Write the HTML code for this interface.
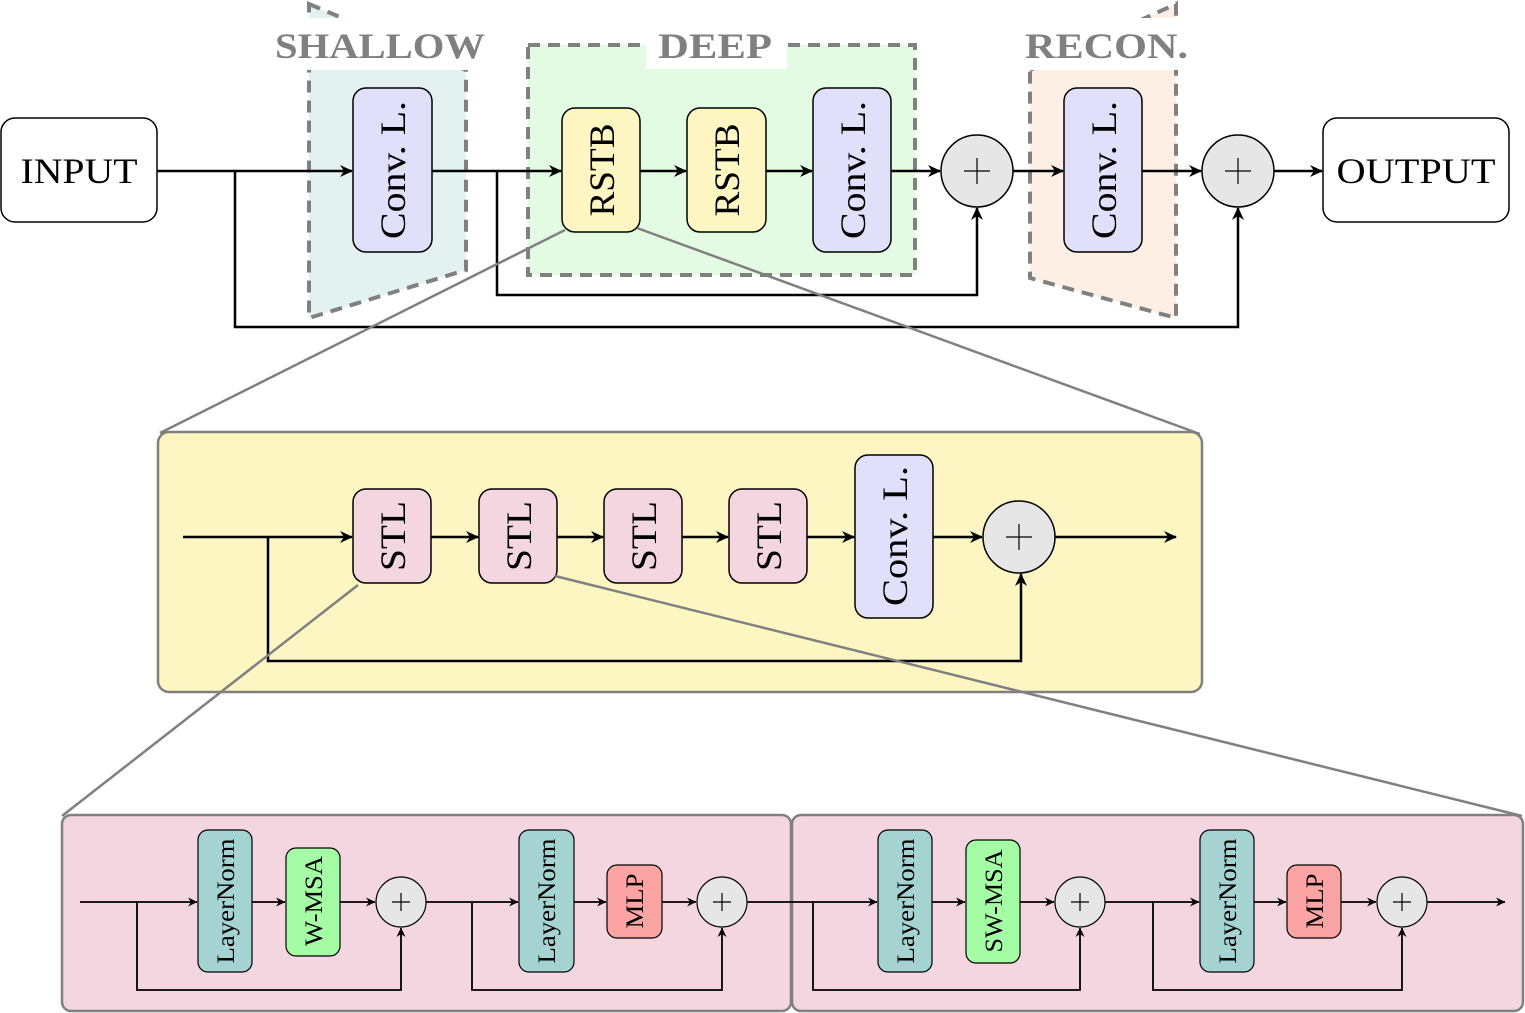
<!DOCTYPE html>
<html><head><meta charset="utf-8"><style>html,body{margin:0;padding:0;background:#fff}svg{display:block}</style></head>
<body>
<svg width="1525" height="1013" viewBox="0 0 1525 1013" xmlns="http://www.w3.org/2000/svg" font-family="Liberation Serif, serif">
<defs>
<marker id="a" markerWidth="14" markerHeight="14" refX="13" refY="7" orient="auto" markerUnits="userSpaceOnUse"><path d="M1,1 L14,7 L1,13 L5,7 Z" fill="#000"/></marker>
<marker id="b" markerWidth="10" markerHeight="10" refX="9.5" refY="5" orient="auto" markerUnits="userSpaceOnUse"><path d="M0.5,0.5 L10,5 L0.5,9.5 L3.5,5 Z" fill="#000"/></marker>
</defs>

<polygon points="309,4 466,70 466,270 309,318" fill="#e3f1f1"/>
<polygon points="309,4 466,70 466,270 309,318" fill="none" stroke="#808080" stroke-width="4" stroke-dasharray="12,8"/>
<rect x="270" y="18" width="222" height="52" fill="#fff"/>
<text x="275" y="58" textLength="210" lengthAdjust="spacingAndGlyphs" font-size="36" font-weight="bold" fill="#808080">SHALLOW</text>

<rect x="528" y="45" width="387" height="230" fill="#e3fbe3" stroke="#808080" stroke-width="4" stroke-dasharray="12,8"/>
<rect x="646" y="26" width="141" height="43" fill="#fff"/>
<text x="658" y="58" textLength="114" lengthAdjust="spacingAndGlyphs" font-size="36" font-weight="bold" fill="#808080">DEEP</text>

<polygon points="1030,70 1176,4 1176,318 1030,278" fill="#fdefe3"/>
<polygon points="1030,70 1176,4 1176,318 1030,278" fill="none" stroke="#808080" stroke-width="4" stroke-dasharray="12,8"/>
<rect x="1020" y="18" width="172" height="52" fill="#fff"/>
<text x="1025" y="58" textLength="163" lengthAdjust="spacingAndGlyphs" font-size="36" font-weight="bold" fill="#808080">RECON.</text>

<g stroke="#000" stroke-width="2.5" fill="none">
<line x1="157" y1="171" x2="352" y2="171" marker-end="url(#a)"/>
<line x1="432" y1="171" x2="561" y2="171" marker-end="url(#a)"/>
<line x1="640" y1="171" x2="686" y2="171" marker-end="url(#a)"/>
<line x1="766" y1="171" x2="812" y2="171" marker-end="url(#a)"/>
<line x1="891" y1="171" x2="940" y2="171" marker-end="url(#a)"/>
<line x1="1013" y1="171" x2="1063" y2="171" marker-end="url(#a)"/>
<line x1="1142" y1="171" x2="1201" y2="171" marker-end="url(#a)"/>
<line x1="1274" y1="171" x2="1322" y2="171" marker-end="url(#a)"/>
<polyline points="235,171 235,327 1238,327 1238,208" marker-end="url(#a)"/>
<polyline points="497,171 497,295 977,295 977,208" marker-end="url(#a)"/>
</g>

<g stroke="#000" stroke-width="1.5">
<rect x="1" y="118" width="156" height="104" rx="14" fill="#fff"/>
<rect x="1323" y="118" width="186" height="104" rx="14" fill="#fff"/>
<rect x="353" y="88" width="79" height="164" rx="13" fill="#e0e0fb"/>
<rect x="562" y="108" width="78" height="124" rx="13" fill="#fdf6c3"/>
<rect x="687" y="108" width="79" height="124" rx="13" fill="#fdf6c3"/>
<rect x="813" y="88" width="78" height="164" rx="13" fill="#e0e0fb"/>
<rect x="1064" y="88" width="78" height="164" rx="13" fill="#e0e0fb"/>
<circle cx="977" cy="171" r="36" fill="#e6e6e6"/>
<circle cx="1238" cy="171" r="36" fill="#e6e6e6"/>
<circle cx="1019" cy="537" r="36" fill="#e6e6e6"/>
</g>
<g stroke="#000" stroke-width="1.2">
<path d="M964,171h26M977,158v26M1225,171h26M1238,158v26M1006,537h26M1019,524v26"/>
</g>
<g font-size="36" fill="#000" text-anchor="middle" lengthAdjust="spacingAndGlyphs">
<text x="79" y="183" textLength="117" lengthAdjust="spacingAndGlyphs">INPUT</text>
<text x="1416" y="183" textLength="159" lengthAdjust="spacingAndGlyphs">OUTPUT</text>
<text transform="translate(405,170) rotate(-90)" textLength="138" lengthAdjust="spacingAndGlyphs">Conv. L.</text>
<text transform="translate(614,170) rotate(-90)" textLength="93" lengthAdjust="spacingAndGlyphs">RSTB</text>
<text transform="translate(739,170) rotate(-90)" textLength="93" lengthAdjust="spacingAndGlyphs">RSTB</text>
<text transform="translate(865,170) rotate(-90)" textLength="138" lengthAdjust="spacingAndGlyphs">Conv. L.</text>
<text transform="translate(1116,170) rotate(-90)" textLength="138" lengthAdjust="spacingAndGlyphs">Conv. L.</text>
</g>

<rect x="158" y="432" width="1044" height="260" rx="11" fill="#fdf6c3" stroke="#808080" stroke-width="2.5"/>
<g stroke="#000" stroke-width="2.5" fill="none">
<line x1="183" y1="537" x2="352" y2="537" marker-end="url(#a)"/>
<line x1="431" y1="537" x2="478" y2="537" marker-end="url(#a)"/>
<line x1="557" y1="537" x2="603" y2="537" marker-end="url(#a)"/>
<line x1="682" y1="537" x2="728" y2="537" marker-end="url(#a)"/>
<line x1="807" y1="537" x2="854" y2="537" marker-end="url(#a)"/>
<line x1="933" y1="537" x2="982" y2="537" marker-end="url(#a)"/>
<line x1="1055" y1="537" x2="1176" y2="537" marker-end="url(#a)"/>
<polyline points="268,537 268,661 1021,661 1021,574" marker-end="url(#a)"/>
</g>
<g stroke="#000" stroke-width="1.5">
<rect x="353" y="489" width="78" height="94" rx="13" fill="#f4d6e1"/>
<rect x="479" y="489" width="78" height="94" rx="13" fill="#f4d6e1"/>
<rect x="604" y="489" width="78" height="94" rx="13" fill="#f4d6e1"/>
<rect x="729" y="489" width="78" height="94" rx="13" fill="#f4d6e1"/>
<rect x="855" y="455" width="78" height="163" rx="13" fill="#e0e0fb"/>
<circle cx="1019" cy="537" r="36" fill="#e6e6e6"/>
</g>
<path d="M1006,537h26M1019,524v26" stroke="#000" stroke-width="1.2"/>
<g font-size="36" fill="#000" text-anchor="middle">
<text transform="translate(405,536) rotate(-90)" textLength="70" lengthAdjust="spacingAndGlyphs">STL</text>
<text transform="translate(531,536) rotate(-90)" textLength="70" lengthAdjust="spacingAndGlyphs">STL</text>
<text transform="translate(656,536) rotate(-90)" textLength="70" lengthAdjust="spacingAndGlyphs">STL</text>
<text transform="translate(781,536) rotate(-90)" textLength="70" lengthAdjust="spacingAndGlyphs">STL</text>
<text transform="translate(907,536) rotate(-90)" textLength="140" lengthAdjust="spacingAndGlyphs">Conv. L.</text>
</g>

<rect x="62" y="815" width="729" height="196" rx="9" fill="#f3d6e0" stroke="#808080" stroke-width="2.5"/>
<rect x="792" y="815" width="731" height="196" rx="9" fill="#f3d6e0" stroke="#808080" stroke-width="2.5"/>
<g stroke="#000" stroke-width="1.8" fill="none">
<line x1="80" y1="902" x2="197" y2="902" marker-end="url(#b)"/>
<line x1="252" y1="902" x2="285" y2="902" marker-end="url(#b)"/>
<line x1="340" y1="902" x2="375" y2="902" marker-end="url(#b)"/>
<line x1="426" y1="902" x2="518" y2="902" marker-end="url(#b)"/>
<line x1="574" y1="902" x2="606" y2="902" marker-end="url(#b)"/>
<line x1="662" y1="902" x2="696" y2="902" marker-end="url(#b)"/>
<line x1="747" y1="902" x2="877" y2="902" marker-end="url(#b)"/>
<line x1="932" y1="902" x2="965" y2="902" marker-end="url(#b)"/>
<line x1="1020" y1="902" x2="1054" y2="902" marker-end="url(#b)"/>
<line x1="1105" y1="902" x2="1199" y2="902" marker-end="url(#b)"/>
<line x1="1254" y1="902" x2="1286" y2="902" marker-end="url(#b)"/>
<line x1="1341" y1="902" x2="1376" y2="902" marker-end="url(#b)"/>
<line x1="1427" y1="902" x2="1505" y2="902" marker-end="url(#b)"/>
<polyline points="137,902 137,990 401,990 401,928" marker-end="url(#b)"/>
<polyline points="472,902 472,990 722,990 722,928" marker-end="url(#b)"/>
<polyline points="813,902 813,990 1080,990 1080,928" marker-end="url(#b)"/>
<polyline points="1153,902 1153,990 1402,990 1402,928" marker-end="url(#b)"/>
</g>
<g stroke="#000" stroke-width="1.2">
<rect x="198" y="830" width="54" height="142" rx="10" fill="#a5d3d2"/>
<rect x="286" y="848" width="54" height="108" rx="10" fill="#a4fca4"/>
<rect x="519" y="830" width="55" height="142" rx="10" fill="#a5d3d2"/>
<rect x="607" y="865" width="55" height="73" rx="10" fill="#fca4a4"/>
<rect x="878" y="830" width="54" height="142" rx="10" fill="#a5d3d2"/>
<rect x="966" y="840" width="54" height="123" rx="10" fill="#a4fca4"/>
<rect x="1200" y="830" width="54" height="142" rx="10" fill="#a5d3d2"/>
<rect x="1287" y="865" width="54" height="73" rx="10" fill="#fca4a4"/>
<circle cx="401" cy="902" r="25" fill="#e6e6e6"/>
<circle cx="722" cy="902" r="25" fill="#e6e6e6"/>
<circle cx="1080" cy="902" r="25" fill="#e6e6e6"/>
<circle cx="1402" cy="902" r="25" fill="#e6e6e6"/>
<path d="M392,902h18M401,893v18M713,902h18M722,893v18M1071,902h18M1080,893v18M1393,902h18M1402,893v18" fill="none"/>
</g>
<g font-size="25" fill="#000" text-anchor="middle">
<text transform="translate(234,901) rotate(-90)" textLength="125" lengthAdjust="spacingAndGlyphs">LayerNorm</text>
<text transform="translate(322,901) rotate(-90)" textLength="90" lengthAdjust="spacingAndGlyphs">W-MSA</text>
<text transform="translate(555,901) rotate(-90)" textLength="125" lengthAdjust="spacingAndGlyphs">LayerNorm</text>
<text transform="translate(643,901) rotate(-90)" textLength="55" lengthAdjust="spacingAndGlyphs">MLP</text>
<text transform="translate(914,901) rotate(-90)" textLength="125" lengthAdjust="spacingAndGlyphs">LayerNorm</text>
<text transform="translate(1002,901) rotate(-90)" textLength="103" lengthAdjust="spacingAndGlyphs">SW-MSA</text>
<text transform="translate(1236,901) rotate(-90)" textLength="125" lengthAdjust="spacingAndGlyphs">LayerNorm</text>
<text transform="translate(1323,901) rotate(-90)" textLength="55" lengthAdjust="spacingAndGlyphs">MLP</text>
</g>

<g stroke="#808080" stroke-width="2.5">
<line x1="565" y1="230" x2="160" y2="433"/>
<line x1="637" y1="228" x2="1200" y2="434"/>
<line x1="358" y1="585" x2="62" y2="816"/>
<line x1="555" y1="576" x2="1522" y2="816"/>
</g>
</svg>
</body></html>
